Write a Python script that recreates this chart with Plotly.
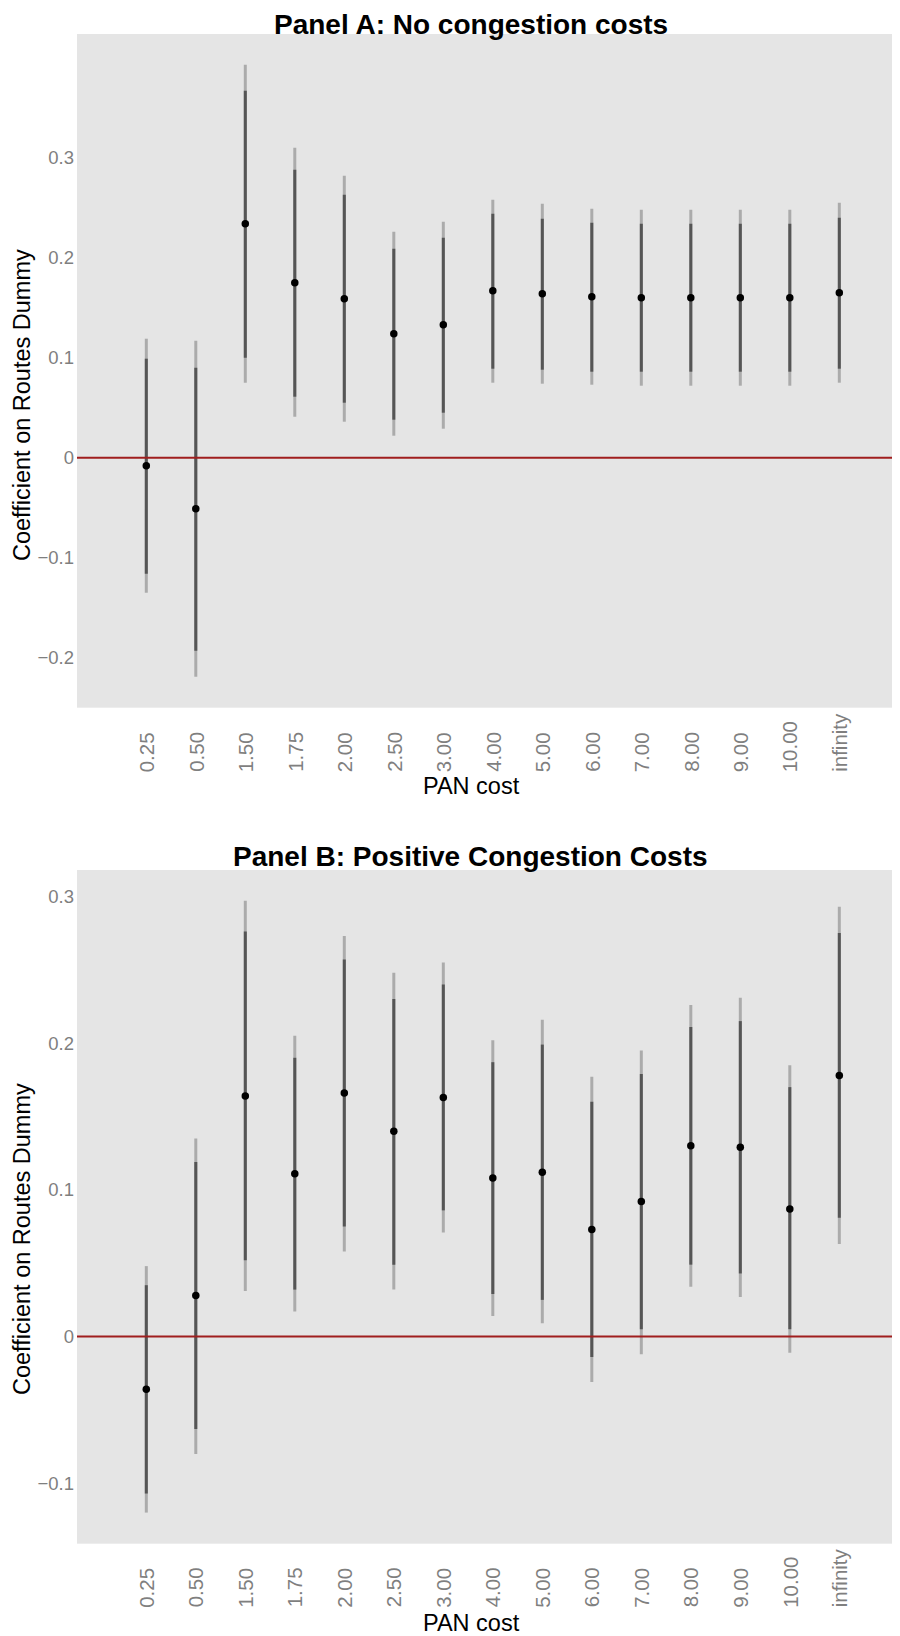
import plotly.graph_objects as go

# The page body has an 8px margin; the figure is sized to fit the window.
PAGE_OFF = 8
W, H = 900 - PAGE_OFF, 1636 - PAGE_OFF

categories = ["0.25", "0.50", "1.50", "1.75", "2.00", "2.50", "3.00", "4.00",
              "5.00", "6.00", "7.00", "8.00", "9.00", "10.00", "infinity"]

# Panel A: No congestion costs
a_est = [-0.008, -0.051, 0.234, 0.175, 0.159, 0.124, 0.133, 0.167, 0.164, 0.161, 0.160, 0.160, 0.160, 0.160, 0.165]
a_lo90 = [-0.116, -0.193, 0.100, 0.061, 0.055, 0.038, 0.045, 0.089, 0.088, 0.086, 0.086, 0.086, 0.086, 0.086, 0.089]
a_hi90 = [0.099, 0.090, 0.367, 0.288, 0.263, 0.209, 0.220, 0.244, 0.239, 0.235, 0.234, 0.234, 0.234, 0.234, 0.240]
a_lo95 = [-0.135, -0.219, 0.075, 0.041, 0.036, 0.022, 0.029, 0.075, 0.074, 0.073, 0.072, 0.072, 0.072, 0.072, 0.075]
a_hi95 = [0.119, 0.117, 0.393, 0.310, 0.282, 0.226, 0.236, 0.258, 0.254, 0.249, 0.248, 0.248, 0.248, 0.248, 0.255]

# Panel B: Positive Congestion Costs
b_est = [-0.036, 0.028, 0.164, 0.111, 0.166, 0.140, 0.163, 0.108, 0.112, 0.073, 0.092, 0.130, 0.129, 0.087, 0.178]
b_lo90 = [-0.107, -0.063, 0.052, 0.032, 0.075, 0.049, 0.086, 0.029, 0.025, -0.014, 0.005, 0.049, 0.043, 0.005, 0.081]
b_hi90 = [0.035, 0.119, 0.276, 0.190, 0.257, 0.230, 0.240, 0.187, 0.199, 0.160, 0.179, 0.211, 0.215, 0.170, 0.275]
b_lo95 = [-0.120, -0.080, 0.031, 0.017, 0.058, 0.032, 0.071, 0.014, 0.009, -0.031, -0.012, 0.034, 0.027, -0.011, 0.063]
b_hi95 = [0.048, 0.135, 0.297, 0.205, 0.273, 0.248, 0.255, 0.202, 0.216, 0.177, 0.195, 0.226, 0.231, 0.185, 0.293]

a_yticks = [-0.2, -0.1, 0, 0.1, 0.2, 0.3]
b_yticks = [-0.1, 0, 0.1, 0.2, 0.3]

FONT = "Liberation Sans, Arial, Helvetica, sans-serif"
BG = "#E5E5E5"
DARK = "#555555"
LIGHT = "#ABABAB"
RED = "#A01E1E"
TICK_GRAY = "#7F7F7F"


def px_y(p):
    """page pixel (from top) -> paper fraction"""
    return 1 - (p - PAGE_OFF) / H


def px_x(p):
    """page pixel (from left) -> paper fraction"""
    return (p - PAGE_OFF) / W


def segs(lo, hi):
    xs, ys = [], []
    for c, l, h in zip(categories, lo, hi):
        xs += [c, c, None]
        ys += [l, h, None]
    return xs, ys


def fmt(v):
    return ("\u2212" + str(abs(v))) if v < 0 else str(v)


fig = go.Figure()

panels = [
    ("x", "y", a_est, a_lo90, a_hi90, a_lo95, a_hi95),
    ("x2", "y2", b_est, b_lo90, b_hi90, b_lo95, b_hi95),
]
for xa, ya, est, lo90, hi90, lo95, hi95 in panels:
    xs, ys = segs(lo95, hi95)
    fig.add_trace(go.Scatter(x=xs, y=ys, mode="lines", xaxis=xa, yaxis=ya,
                             line=dict(color=LIGHT, width=3), hoverinfo="skip",
                             showlegend=False))
    xs, ys = segs(lo90, hi90)
    fig.add_trace(go.Scatter(x=xs, y=ys, mode="lines", xaxis=xa, yaxis=ya,
                             line=dict(color=DARK, width=3), hoverinfo="skip",
                             showlegend=False))
    fig.add_trace(go.Scatter(x=categories, y=est, mode="markers", xaxis=xa, yaxis=ya,
                             marker=dict(color="black", size=7.5), showlegend=False))

# geometry (page pixels)
plot_left = 77
a_top, a_bot = 34, 707.7
b_top, b_bot = 870, 1543.7

xcommon = dict(type="category", categoryarray=categories, categoryorder="array",
               range=[-1.4, 15.226], showgrid=False, zeroline=False,
               showticklabels=False, ticks="", showline=False,
               domain=[px_x(plot_left), 1])
ycommon = dict(showgrid=False, zeroline=False, ticks="", showline=False,
               tickfont=dict(family=FONT, size=18.5, color=TICK_GRAY),
               ticklabelstandoff=2)

fig.update_layout(
    width=W, height=H,
    margin=dict(l=0, r=0, t=0, b=0),
    paper_bgcolor="white",
    plot_bgcolor=BG,
    showlegend=False,
    xaxis=dict(xcommon, anchor="y"),
    yaxis=dict(ycommon, anchor="x", domain=[px_y(a_bot), px_y(a_top)],
               range=[-0.25, 0.4237], tickvals=a_yticks,
               ticktext=[fmt(v) for v in a_yticks]),
    xaxis2=dict(xcommon, anchor="y2"),
    yaxis2=dict(ycommon, anchor="x2", domain=[px_y(b_bot), px_y(b_top)],
                range=[-0.1412, 0.318], tickvals=b_yticks,
                ticktext=[fmt(v) for v in b_yticks]),
)

# zero reference lines (drawn above marks)
for xa, ya in [("x", "y"), ("x2", "y2")]:
    fig.add_shape(type="line", xref=f"{xa} domain", yref=ya, x0=0, x1=1, y0=0, y1=0,
                  line=dict(color=RED, width=2), layer="above")

annotations = []
# rotated category labels, bottom-aligned (x given as category index)
for xa, label_bottom in [("x", 774), ("x2", 1609.5)]:
    for i, c in enumerate(categories):
        annotations.append(dict(x=i, xref=xa, y=px_y(label_bottom), yref="paper",
                                text=c, textangle=-90, showarrow=False,
                                xanchor="center", yanchor="bottom",
                                font=dict(family=FONT, size=20.5, color=TICK_GRAY)))

# panel titles (Panel A pinned to the top edge so its box stays inside the page)
annotations.append(dict(x=px_x(470.5), xref="paper", y=1, yref="paper",
                        text="<b>Panel A: No congestion costs</b>", showarrow=False,
                        xanchor="center", yanchor="top", borderpad=0,
                        font=dict(family=FONT, size=28, color="black")))
annotations.append(dict(x=px_x(470.5), xref="paper", y=px_y(856), yref="paper",
                        text="<b>Panel B: Positive Congestion Costs</b>", showarrow=False,
                        xanchor="center", yanchor="middle",
                        font=dict(family=FONT, size=28, color="black")))

# axis titles
for yc in [405, 1239]:
    annotations.append(dict(x=px_x(22), xref="paper", y=px_y(yc), yref="paper",
                            text="Coefficient on Routes Dummy", textangle=-90,
                            showarrow=False, xanchor="center", yanchor="middle",
                            font=dict(family=FONT, size=23.5, color="black")))
for yc in [786, 1623]:
    annotations.append(dict(x=px_x(471), xref="paper", y=px_y(yc), yref="paper",
                            text="PAN cost", showarrow=False,
                            xanchor="center", yanchor="middle",
                            font=dict(family=FONT, size=23.5, color="black")))

fig.update_layout(annotations=annotations)

fig.write_html("out.html")
